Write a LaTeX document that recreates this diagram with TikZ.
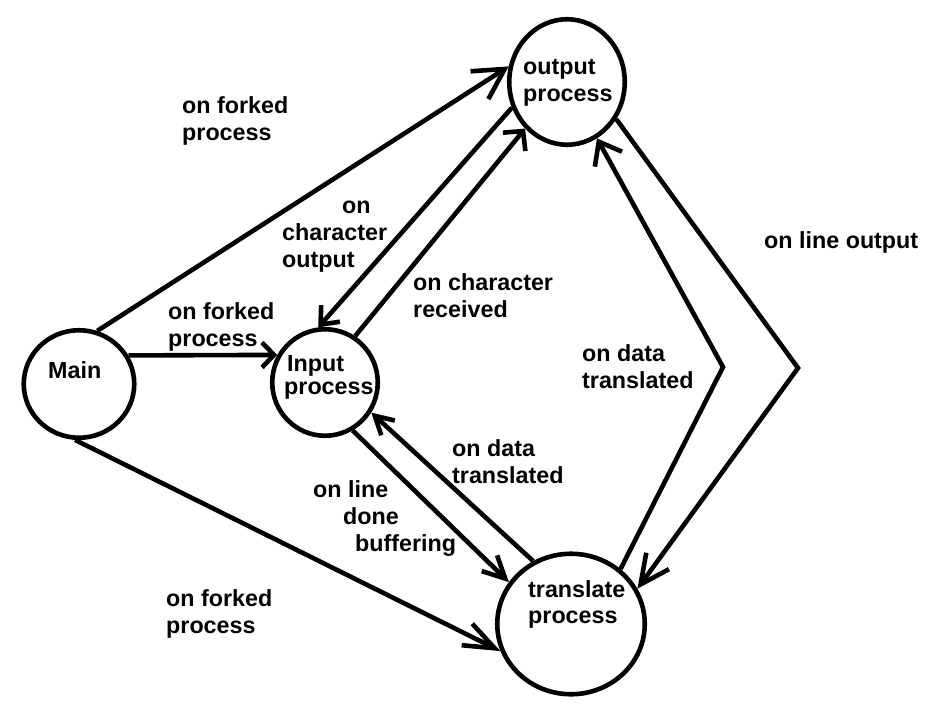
\documentclass[tikz,border=0pt]{standalone}
\usepackage{fontspec}
\setmainfont{Liberation Sans}
\usetikzlibrary{shapes.geometric,arrows.meta}
\newcommand{\lines}[2][27pt]{\vtop{\baselineskip=#1\lineskiplimit=-30pt\lineskip=0pt\halign{##\hfil\cr#2\crcr}}}
\tikzset{
  state/.style={ellipse, draw, line width=4.6pt, inner sep=0pt},
  txt/.style={anchor=base west, inner sep=0pt, font=\fontsize{23.3}{27}\selectfont\bfseries},
  ar/.style 2 args={-{Straight Barb[length=#1, width=#2]}},
  conn/.style={line width=4.6pt}
}
\begin{document}
\begin{tikzpicture}[x=1pt,y=-1pt]
\useasboundingbox (0,0) rectangle (949,722);
% states
\node[state, minimum width=110.5pt, minimum height=107.5pt] (main) at (79,384) {};
\node[state, minimum width=105.5pt, minimum height=106.5pt] (inp) at (325,382.5) {};
\node[state, minimum width=115.5pt, minimum height=125.5pt] (out) at (567,82) {};
\node[state, minimum width=147.5pt, minimum height=140.5pt] (tr) at (571,624) {};
% state texts
\node[txt] (mainT) at (48,378) {\lines{Main}};
\node[txt] (outT) at (523,75) {\lines{output\cr process}};
\node[txt] (inpT) at (284,371) {\lines[23pt]{\hspace*{3pt}Input\cr process}};
\node[txt] (trT) at (528,597) {\lines[26pt]{translate\cr process}};
% bend points
\coordinate (b1) at (723,367);
\coordinate (b2) at (798,368);
% connectors
\draw[conn, ar={30pt}{33pt}] (main.71) -- (out.165);
\draw[conn, ar={12pt}{25pt}] (main.30) -- (inp.150);
\draw[conn, ar={31pt}{24pt}] (main.-94) -- (tr.201);
\draw[conn, ar={14pt}{29pt}] (inp.57) -- (out.228);
\draw[conn, ar={15pt}{25pt}] (out.205) -- (inp.97);
\draw[conn, ar={22pt}{22pt}] (inp.-60) -- (tr.146);
\draw[conn, ar={18pt}{20pt}] (tr.121) -- (inp.-33);
\draw[conn, ar={20pt}{31pt}] (tr.48) -- (b1) -- (out.-62);
\draw[conn, ar={29pt}{28pt}] (out.-37) -- (b2) -- (tr.28);
% labels
\node[txt] (l1) at (182,114) {\lines{on forked\cr process}};
\node[txt] (l2) at (168,319) {\lines{on forked\cr process}};
\node[txt] (l3) at (282,213) {\lines{\hspace*{60pt}on\cr character\cr output}};
\node[txt] (l4) at (413,290) {\lines{on character\cr received}};
\node[txt] (l5) at (452,456) {\lines{on data\cr translated}};
\node[txt] (l6) at (313,497) {\lines{on line\cr \hspace*{30pt}done\cr \hspace*{42pt}buffering}};
\node[txt] (l7) at (166,606) {\lines{on forked\cr process}};
\node[txt] (l8) at (582,361) {\lines{on data\cr translated}};
\node[txt] (l9) at (764,248) {\lines{on line output}};
\end{tikzpicture}
\end{document}
